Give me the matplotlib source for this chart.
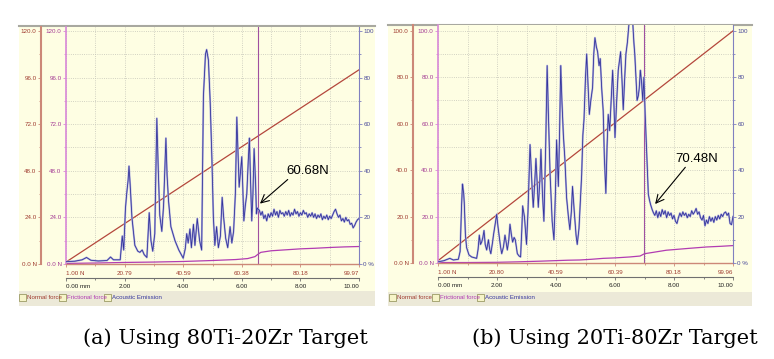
import numpy as np
import matplotlib
matplotlib.use('Agg')
from matplotlib import pyplot as plt
from matplotlib.patches import Rectangle
from matplotlib.lines import Line2D
from matplotlib.ticker import MultipleLocator

W, H = 774, 359
plt.rcParams['font.family'] = ['Liberation Sans', 'DejaVu Sans']

mm_ticks = [0, 2, 4, 6, 8, 10]
mm_labels = ['0.00 mm', '2.00', '4.00', '6.00', '8.00', '10.00']
ae_ticks = [0, 20, 40, 60, 80, 100]
ae_labels = ['0 %', '20', '40', '60', '80', '100']
legend_names = ['Normal force', 'Frictional force', 'Acoustic Emission']

# ---- (a) 80Ti-20Zr target ----
load_a = [1.00, 99.97]
load_labels_a = ['1.00 N', '20.79', '40.59', '60.38', '80.18', '99.97']
force_ticks_a = [0, 24, 48, 72, 96, 120]
force_labels_a = ['0.0 N', '24.0', '48.0', '72.0', '96.0', '120.0']
fric_mm_a = [0, 1, 2, 3, 4, 5, 5.8, 6.2, 6.45, 6.55, 6.65, 7.0, 7.5, 8.0, 8.5, 9.0, 9.5, 10]
fric_a = [0.3, 0.5, 0.8, 1.0, 1.3, 1.8, 2.3, 2.8, 3.8, 5.0, 6.0, 6.8, 7.3, 7.8, 8.1, 8.5, 8.8, 9.0]
ae_mm_a = [0.00, 0.30, 0.55, 0.70, 0.85, 1.10, 1.40, 1.52, 1.62, 1.85, 1.92, 1.97, 2.03, 2.07,
           2.12, 2.15, 2.19, 2.25, 2.35, 2.45, 2.52, 2.60, 2.67, 2.76, 2.84, 2.90, 2.96, 3.03,
           3.10, 3.15, 3.20, 3.27, 3.33, 3.41, 3.45, 3.50, 3.58, 3.72, 3.85, 4.00, 4.07, 4.12,
           4.17, 4.23, 4.28, 4.35, 4.40, 4.48, 4.56, 4.63, 4.69, 4.76, 4.80, 4.86, 4.92, 4.98,
           5.03, 5.08, 5.14, 5.20, 5.27, 5.33, 5.38, 5.45, 5.52, 5.60, 5.66, 5.72, 5.78, 5.83,
           5.88, 5.91, 5.96, 6.00, 6.07, 6.12, 6.17, 6.22, 6.26, 6.30, 6.34, 6.38, 6.42, 6.47,
           6.50, 6.53]
ae_a = [1.0, 1.2, 1.8, 2.8, 1.6, 1.3, 1.5, 3.0, 1.8, 1.8, 12.0, 6.0, 24.0, 30.0,
        36.0, 42.0, 34.0, 20.0, 8.0, 5.5, 5.0, 6.0, 4.0, 2.8, 22.0, 10.0, 5.5, 13.0,
        62.5, 40.0, 21.0, 14.0, 25.0, 54.0, 38.0, 27.0, 16.0, 10.0, 6.0, 2.5, 6.5, 13.0,
        9.0, 15.0, 7.0, 17.0, 8.0, 19.5, 10.0, 6.0, 72.0, 90.0, 92.0, 87.5, 70.0, 45.0,
        20.0, 8.0, 16.0, 7.0, 12.0, 28.6, 20.0, 11.0, 7.0, 16.0, 9.0, 14.0, 30.0, 63.0,
        45.0, 33.0, 40.0, 46.0, 18.5, 25.0, 30.0, 44.0, 54.0, 35.0, 18.5, 30.0, 49.5, 35.0,
        21.5, 24.0]
ae_tail_a = [23.0, 21.0, 22.5, 19.5, 21.0, 18.5, 21.5, 20.0, 22.0, 20.5, 23.5, 21.0, 22.5, 20.0,
             23.0, 21.5, 22.0, 20.5, 22.5, 21.0, 23.0, 20.5, 22.0, 21.0, 23.5, 21.5, 22.5, 20.5,
             22.0, 21.0, 23.0, 21.5, 22.0, 20.0, 21.5, 20.5, 22.0, 20.0, 21.5, 19.5, 21.0, 20.0,
             21.5, 19.0, 20.5, 19.5, 21.0, 19.0, 20.5, 19.5, 21.0, 22.5, 23.5, 21.5, 20.0, 21.0,
             18.5, 19.5, 18.0, 20.0, 18.5, 19.0, 17.0, 17.5, 15.5, 16.5, 18.0, 19.0, 19.5]
fail_mm_a = 6.55
crit_a = '60.68N'

# ---- (b) 20Ti-80Zr target ----
load_b = [1.00, 99.96]
load_labels_b = ['1.00 N', '20.80', '40.59', '60.39', '80.18', '99.96']
force_ticks_b = [0, 20, 40, 60, 80, 100]
force_labels_b = ['0.0 N', '20.0', '40.0', '60.0', '80.0', '100.0']
fric_mm_b = [0, 1, 2, 2.7, 3.5, 4.4, 4.8, 5.2, 5.6, 6.0, 6.5, 6.85, 7.0, 7.3, 7.74, 8.5, 9.1, 9.6, 10]
fric_b = [0.2, 0.2, 0.3, 0.5, 0.8, 1.2, 1.3, 1.6, 2.0, 2.2, 2.6, 3.0, 4.0, 4.6, 5.5, 6.3, 6.9, 7.2, 7.5]
ae_mm_b = [0.00, 0.20, 0.40, 0.52, 0.69, 0.75, 0.80, 0.83, 0.87, 0.89, 0.93, 0.97, 1.05, 1.14,
           1.31, 1.36, 1.40, 1.44, 1.48, 1.52, 1.56, 1.60, 1.65, 1.71, 1.75, 1.79, 1.85, 1.88,
           1.94, 1.99, 2.03, 2.07, 2.12, 2.16, 2.22, 2.27, 2.31, 2.35, 2.40, 2.44, 2.49, 2.53,
           2.58, 2.62, 2.69, 2.75, 2.80, 2.84, 2.87, 2.93, 3.00, 3.05, 3.09, 3.12, 3.16, 3.20,
           3.23, 3.28, 3.32, 3.36, 3.40, 3.45, 3.49, 3.54, 3.59, 3.65, 3.70, 3.74, 3.80, 3.87,
           3.93, 3.98, 4.02, 4.06, 4.08, 4.12, 4.16, 4.20, 4.25, 4.30, 4.36, 4.42, 4.47, 4.52,
           4.56, 4.62, 4.68, 4.72, 4.78, 4.83, 4.87, 4.91, 4.95, 5.00, 5.04, 5.08, 5.13, 5.18,
           5.24, 5.28, 5.32, 5.37, 5.41, 5.46, 5.50, 5.55, 5.60, 5.64, 5.69, 5.73, 5.77, 5.82,
           5.87, 5.92, 5.96, 6.00, 6.05, 6.11, 6.15, 6.19, 6.24, 6.28, 6.33, 6.37, 6.42, 6.48,
           6.55, 6.60, 6.64, 6.67, 6.71, 6.75, 6.79, 6.82, 6.86, 6.90, 6.94, 6.98, 7.02, 7.06,
           7.10, 7.13, 7.17, 7.21, 7.26, 7.30]
ae_b = [0.5, 1.0, 2.0, 1.3, 1.6, 5.0, 25.0, 34.0, 30.0, 26.0, 12.0, 6.6, 3.5, 2.6,
        2.0, 6.0, 12.0, 8.0, 9.0, 11.0, 14.0, 8.0, 5.6, 10.0, 6.0, 4.0, 9.0, 12.0,
        17.0, 21.0, 16.0, 12.0, 7.0, 4.0, 7.0, 12.0, 9.0, 5.6, 10.0, 16.7, 12.0, 9.0,
        11.0, 10.0, 4.0, 3.0, 2.6, 14.0, 24.6, 20.0, 8.0, 22.0, 38.0, 51.0, 40.0, 30.0,
        24.0, 35.0, 45.0, 35.0, 24.0, 35.0, 49.0, 30.0, 18.0, 50.0, 85.0, 65.0, 38.0, 18.0,
        10.0, 30.0, 53.0, 40.0, 33.0, 55.0, 85.0, 70.0, 55.0, 45.0, 28.0, 20.0, 14.4, 22.0,
        33.0, 22.0, 12.0, 8.0, 15.0, 28.0, 38.0, 55.0, 62.0, 80.0, 90.0, 78.0, 64.0, 70.0,
        75.6, 90.0, 97.0, 93.0, 91.0, 85.0, 88.0, 75.0, 65.5, 45.0, 30.0, 50.0, 64.0, 57.0,
        70.0, 83.0, 70.0, 54.0, 68.0, 83.0, 87.0, 91.0, 78.0, 66.0, 80.0, 90.0, 95.0, 104.0,
        104.0, 104.0, 95.0, 90.0, 80.0, 70.0, 72.0, 75.0, 83.0, 78.0, 70.0, 80.0, 65.0, 52.0,
        38.0, 29.6, 27.0, 25.0, 23.0, 21.7]
ae_tail_b = [20.5, 22.5, 19.5, 22.0, 20.0, 23.0, 21.0, 22.5, 19.5, 22.0, 20.5, 21.5, 19.0, 20.5,
             18.0, 17.0, 19.5, 21.5, 20.0, 22.0, 20.5, 21.5, 19.5, 21.0, 20.0, 22.5, 21.0, 22.0,
             23.5, 21.0, 22.0, 19.5, 18.5, 20.5, 16.0, 18.5, 17.0, 20.0, 18.0, 19.5, 17.5, 20.0,
             18.5, 20.5, 19.0, 21.0, 20.0, 21.5, 22.0, 20.5, 21.5, 17.0, 16.5, 20.0]
fail_mm_b = 6.98
crit_b = '70.48N'

YEL = '#fefee3'
BAND = '#ece9d8'
RED = '#b4473c'
RED_AX = '#cc8878'
RED_TXT = '#a03c30'
MAG = '#b23cb2'
MAG_AX = '#d888d8'
MAG_TXT = '#a43c94'
BLUE = '#34349c'
BLUE_HALO = '#b2b2dc'
BLUE_AX = '#8080c0'
BLUE_TXT = '#4a4a9a'
GRID = '#c4c4b8'
TICK_FS = 4.5

fig = plt.figure(figsize=(W / 100, H / 100), dpi=100)


def px_box(x0, y0, x1, y1):
    return [x0 / W, 1 - y1 / H, (x1 - x0) / W, (y1 - y0) / H]


def draw_panel(frame, box, fmax, fticks, flabels, nlabels, load, fr_mm, fr, ae_mm, ae, ae_tail,
               tail_start, fail_mm, crit, note_xy, note_txt, relpos, legend_x, caption, cap_x):
    x0, y0, x1, y1, band = frame
    fig.add_artist(Rectangle((x0 / W, 1 - y1 / H), (x1 - x0) / W, (y1 - y0) / H,
                             transform=fig.transFigure, fc=YEL, ec='none', zorder=-2))
    fig.add_artist(Rectangle((x0 / W, 1 - y1 / H), (x1 - x0) / W, (y1 - band) / H,
                             transform=fig.transFigure, fc=BAND, ec='none', zorder=-2))
    fig.add_artist(Line2D([x0 / W, x1 / W], [1 - y0 / H] * 2, transform=fig.transFigure,
                          color='#a8a8a0', lw=1.5, zorder=-1))

    bw = box[2] - box[0]
    bh = box[3] - box[1]
    ax = fig.add_axes(px_box(*box))
    ax.set_facecolor(YEL)
    ax.set_xlim(0, 10)
    ax.set_ylim(0, fmax)
    ax.plot([0, 10], load, color=RED, lw=0.9)
    ax.plot(fr_mm, fr, color=MAG, lw=0.9)
    ax.axvline(fail_mm, color='#a050a0', lw=0.8)
    for s in ['top', 'right']:
        ax.spines[s].set_visible(False)
    ax.spines['left'].set_color(MAG_AX)
    ax.spines['left'].set_linewidth(1.2)
    ax.spines['bottom'].set_color(RED_AX)
    ax.spines['bottom'].set_linewidth(1.0)
    ax.set_yticks(fticks, flabels)
    ax.yaxis.set_minor_locator(MultipleLocator((fticks[1] - fticks[0]) / 2))
    ax.set_xticks(mm_ticks, nlabels)
    ax.xaxis.set_minor_locator(MultipleLocator(1))
    ax.tick_params(axis='y', which='both', colors=MAG_AX, labelcolor=MAG_TXT, labelsize=TICK_FS,
                   length=2.2, width=0.6, pad=1)
    ax.tick_params(axis='y', which='minor', length=1.4)
    ax.tick_params(axis='x', which='both', colors=RED_AX, labelcolor=RED_TXT, labelsize=TICK_FS,
                   length=2.2, width=0.6, pad=2.5)
    ax.tick_params(axis='x', which='minor', length=1.4)
    xl = ax.get_xticklabels()
    xl[0].set_ha('left')
    xl[-1].set_ha('right')
    ax.grid(which='both', color=GRID, ls=':', lw=0.6)
    ax.set_axisbelow(True)

    # normal force axis, further left
    red = ax.secondary_yaxis(-25 / bw)
    red.set_yticks(fticks, flabels)
    red.yaxis.set_minor_locator(MultipleLocator((fticks[1] - fticks[0]) / 2))
    red.spines['left'].set_color(RED_AX)
    red.spines['left'].set_linewidth(1.5)
    red.tick_params(which='both', colors=RED_AX, labelcolor=RED_TXT, labelsize=TICK_FS,
                    length=2.2, width=0.6, pad=1)
    red.tick_params(which='minor', length=1.4)

    # distance axis below
    dist = ax.secondary_xaxis(-14 / bh)
    dist.set_xticks(mm_ticks, mm_labels)
    dist.xaxis.set_minor_locator(MultipleLocator(1))
    dist.spines['bottom'].set_color('#707070')
    dist.spines['bottom'].set_linewidth(0.8)
    dist.tick_params(which='both', colors='#707070', labelcolor='#202020', labelsize=TICK_FS,
                     length=2.2, width=0.6, pad=2)
    dist.tick_params(which='minor', length=1.4)
    dl = dist.get_xticklabels()
    dl[0].set_ha('left')
    dl[-1].set_ha('right')

    # acoustic emission, right axis
    ax2 = ax.twinx()
    ax2.set_ylim(0, fmax * 100 / fticks[-1])
    tail_mm = np.linspace(tail_start, 10.0, len(ae_tail))
    ae_x = list(ae_mm) + list(tail_mm)
    ae_y = list(ae) + list(ae_tail)
    ax2.plot(ae_x, ae_y, color=BLUE_HALO, lw=1.4, solid_joinstyle='round')
    ax2.plot(ae_x, ae_y, color=BLUE, lw=0.6)
    for s in ['top', 'left', 'bottom']:
        ax2.spines[s].set_visible(False)
    ax2.spines['right'].set_color(BLUE_AX)
    ax2.set_yticks(ae_ticks, ae_labels)
    ax2.yaxis.set_minor_locator(MultipleLocator(10))
    ax2.tick_params(which='both', colors=BLUE_AX, labelcolor=BLUE_TXT, labelsize=TICK_FS,
                    length=2.2, width=0.6, pad=1)
    ax2.tick_params(which='minor', length=1.4)
    ax2.annotate(crit, xy=note_xy, xytext=note_txt, ha='center', va='center', fontsize=9.5,
                 arrowprops=dict(arrowstyle='->,head_length=0.6,head_width=0.3', color='black',
                                 lw=0.8, shrinkA=0, shrinkB=0, relpos=relpos))

    # legend strip
    colors = [RED_TXT, MAG, BLUE]
    for name, c, lx in zip(legend_names, colors, legend_x):
        fig.add_artist(Rectangle(((lx) / W, 1 - 301 / H), 7 / W, 7 / H, transform=fig.transFigure,
                                 fc='#f6f4c8', ec='#8a8a50', lw=0.5))
        fig.text((lx + 8) / W, 1 - 297.5 / H, name, color=c, fontsize=4.4, va='center')

    fig.text(cap_x / W, 1 - 338 / H, caption, ha='center', va='center', fontsize=15,
             family='DejaVu Serif')


draw_panel((19, 26, 375, 306, 291), (66, 27, 359, 264), 122, force_ticks_a, force_labels_a,
           load_labels_a, load_a, fric_mm_a, fric_a, ae_mm_a, ae_a, ae_tail_a, 6.60, fail_mm_a,
           crit_a, (6.62, 25.9), (8.26, 40.0), (0.1, 0.0), [19, 59, 104],
           '(a) Using 80Ti-20Zr Target', 225)
draw_panel((388, 25, 752, 306, 292), (438, 25, 733, 263), 102.5, force_ticks_b, force_labels_b,
           load_labels_b, load_b, fric_mm_b, fric_b, ae_mm_b, ae_b, ae_tail_b, 7.35, fail_mm_b,
           crit_b, (7.36, 25.4), (8.78, 45.0), (0.28, 0.0), [389, 432, 477],
           '(b) Using 20Ti-80Zr Target', 615)

fig.savefig('out.png', dpi=100)
